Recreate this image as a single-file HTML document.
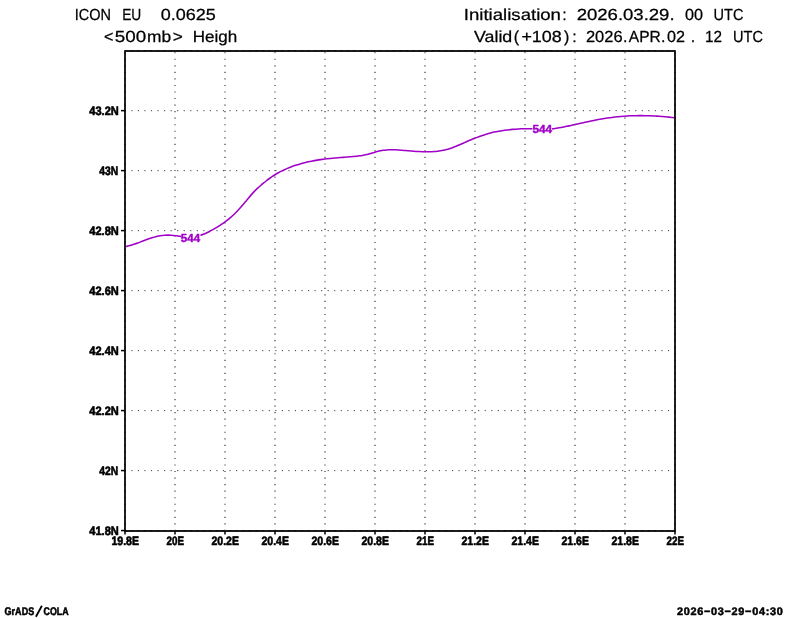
<!DOCTYPE html>
<html><head><meta charset="utf-8"><title>ICON EU 500mb Height</title>
<style>html,body{margin:0;padding:0;background:#fff;}body{width:800px;height:618px;overflow:hidden;font-family:"Liberation Sans",sans-serif;}svg{display:block;}text{font-family:"Liberation Sans",sans-serif;}</style>
</head><body>
<svg width="800" height="618" viewBox="0 0 800 618" style="will-change:transform">
<rect x="0" y="0" width="800" height="618" fill="#ffffff"/>
<g stroke="#3c3c3c" stroke-width="1" fill="none" stroke-dasharray="1.15 5.394">
<path d="M175.00 530.90V51.00" stroke-dashoffset="0.12" stroke-width="1.15" stroke="#343434"/>
<path d="M225.00 530.90V51.00" stroke-dashoffset="0.12" stroke-width="1.15" stroke="#343434"/>
<path d="M275.00 530.90V51.00" stroke-dashoffset="0.12" stroke-width="1.15" stroke="#343434"/>
<path d="M325.00 530.90V51.00" stroke-dashoffset="0.12" stroke-width="1.15" stroke="#343434"/>
<path d="M375.00 530.90V51.00" stroke-dashoffset="0.12" stroke-width="1.15" stroke="#343434"/>
<path d="M425.00 530.90V51.00" stroke-dashoffset="0.12" stroke-width="1.15" stroke="#343434"/>
<path d="M475.00 530.90V51.00" stroke-dashoffset="0.12" stroke-width="1.15" stroke="#343434"/>
<path d="M525.00 530.90V51.00" stroke-dashoffset="0.12" stroke-width="1.15" stroke="#343434"/>
<path d="M575.00 530.90V51.00" stroke-dashoffset="0.12" stroke-width="1.15" stroke="#343434"/>
<path d="M625.00 530.90V51.00" stroke-dashoffset="0.12" stroke-width="1.15" stroke="#343434"/>
<path d="M125.00 470.61H675.00" stroke-dashoffset="0.23"/>
<path d="M125.00 410.63H675.00" stroke-dashoffset="0.23"/>
<path d="M125.00 350.64H675.00" stroke-dashoffset="0.23"/>
<path d="M125.00 290.65H675.00" stroke-dashoffset="0.23"/>
<path d="M125.00 230.66H675.00" stroke-dashoffset="0.23"/>
<path d="M125.00 170.67H675.00" stroke-dashoffset="0.23"/>
<path d="M125.00 110.69H675.00" stroke-dashoffset="0.23"/>
</g>
<g stroke="#a000c8" stroke-width="1.55" fill="none" stroke-linecap="butt" stroke-linejoin="round">
<path d="M125.70 246.52C126.20 246.41 127.70 246.10 128.70 245.84C129.70 245.59 130.70 245.30 131.70 245.00C132.70 244.70 133.70 244.37 134.70 244.03C135.70 243.69 136.70 243.33 137.70 242.97C138.70 242.61 139.70 242.23 140.70 241.85C141.70 241.48 142.70 241.09 143.70 240.72C144.70 240.34 145.70 239.96 146.70 239.60C147.70 239.24 148.70 238.87 149.70 238.53C150.70 238.19 151.70 237.86 152.70 237.56C153.70 237.25 154.70 236.96 155.70 236.71C156.70 236.45 157.70 236.21 158.70 236.02C159.70 235.82 160.70 235.65 161.70 235.52C162.70 235.39 163.70 235.29 164.70 235.22C165.70 235.15 166.70 235.11 167.70 235.11C168.70 235.10 169.70 235.12 170.70 235.17C171.70 235.22 172.70 235.30 173.70 235.40C174.70 235.51 175.70 235.64 176.70 235.79C177.70 235.94 178.95 236.18 179.70 236.32C180.45 236.47 180.95 236.59 181.20 236.64"/>
<path d="M200.40 235.33C200.90 235.15 202.40 234.64 203.40 234.24C204.40 233.85 205.40 233.42 206.40 232.97C207.40 232.51 208.40 232.03 209.40 231.52C210.40 231.01 211.40 230.47 212.40 229.91C213.40 229.36 214.40 228.77 215.40 228.17C216.40 227.57 217.40 226.95 218.40 226.31C219.40 225.67 220.40 225.02 221.40 224.34C222.40 223.67 223.40 222.99 224.40 222.27C225.40 221.55 226.40 220.81 227.40 220.04C228.40 219.26 229.40 218.46 230.40 217.61C231.40 216.76 232.40 215.88 233.40 214.94C234.40 214.00 235.40 213.02 236.40 211.99C237.40 210.96 238.40 209.88 239.40 208.78C240.40 207.67 241.40 206.52 242.40 205.36C243.40 204.19 244.40 202.98 245.40 201.78C246.40 200.58 247.40 199.34 248.40 198.15C249.40 196.95 250.40 195.75 251.40 194.62C252.40 193.49 253.40 192.39 254.40 191.36C255.40 190.33 256.40 189.36 257.40 188.42C258.40 187.47 259.40 186.59 260.40 185.71C261.40 184.84 262.40 184.00 263.40 183.18C264.40 182.35 265.40 181.54 266.40 180.76C267.40 179.98 268.40 179.22 269.40 178.50C270.40 177.78 271.40 177.08 272.40 176.42C273.40 175.75 274.40 175.12 275.40 174.51C276.40 173.90 277.40 173.32 278.40 172.77C279.40 172.21 280.40 171.68 281.40 171.17C282.40 170.67 283.40 170.18 284.40 169.72C285.40 169.26 286.40 168.82 287.40 168.39C288.40 167.97 289.40 167.57 290.40 167.19C291.40 166.80 292.40 166.43 293.40 166.08C294.40 165.73 295.40 165.40 296.40 165.07C297.40 164.75 298.40 164.44 299.40 164.15C300.40 163.85 301.40 163.57 302.40 163.30C303.40 163.03 304.40 162.78 305.40 162.53C306.40 162.29 307.40 162.05 308.40 161.83C309.40 161.61 310.40 161.40 311.40 161.20C312.40 161.00 313.40 160.81 314.40 160.62C315.40 160.44 316.40 160.27 317.40 160.11C318.40 159.94 319.40 159.79 320.40 159.64C321.40 159.50 322.40 159.36 323.40 159.22C324.40 159.09 325.40 158.97 326.40 158.85C327.40 158.73 328.40 158.62 329.40 158.52C330.40 158.41 331.40 158.31 332.40 158.22C333.40 158.12 334.40 158.04 335.40 157.95C336.40 157.87 337.40 157.79 338.40 157.71C339.40 157.64 340.40 157.56 341.40 157.49C342.40 157.42 343.40 157.35 344.40 157.28C345.40 157.20 346.40 157.13 347.40 157.06C348.40 156.98 349.40 156.90 350.40 156.82C351.40 156.73 352.40 156.64 353.40 156.54C354.40 156.44 355.40 156.34 356.40 156.23C357.40 156.11 358.40 155.99 359.40 155.85C360.40 155.71 361.40 155.57 362.40 155.40C363.40 155.23 364.40 155.05 365.40 154.84C366.40 154.63 367.40 154.40 368.40 154.15C369.40 153.89 370.40 153.60 371.40 153.31C372.40 153.02 373.40 152.71 374.40 152.41C375.40 152.11 376.40 151.81 377.40 151.53C378.40 151.26 379.40 151.00 380.40 150.78C381.40 150.57 382.40 150.38 383.40 150.24C384.40 150.09 385.40 149.98 386.40 149.90C387.40 149.81 388.40 149.76 389.40 149.73C390.40 149.70 391.40 149.69 392.40 149.70C393.40 149.71 394.40 149.75 395.40 149.79C396.40 149.83 397.40 149.89 398.40 149.95C399.40 150.02 400.40 150.09 401.40 150.17C402.40 150.25 403.40 150.33 404.40 150.41C405.40 150.50 406.40 150.58 407.40 150.67C408.40 150.76 409.40 150.84 410.40 150.93C411.40 151.01 412.40 151.10 413.40 151.18C414.40 151.26 415.40 151.33 416.40 151.40C417.40 151.47 418.40 151.53 419.40 151.59C420.40 151.64 421.40 151.69 422.40 151.73C423.40 151.76 424.40 151.79 425.40 151.80C426.40 151.81 427.40 151.82 428.40 151.80C429.40 151.79 430.40 151.76 431.40 151.71C432.40 151.66 433.40 151.60 434.40 151.52C435.40 151.44 436.40 151.34 437.40 151.22C438.40 151.09 439.40 150.95 440.40 150.78C441.40 150.62 442.40 150.43 443.40 150.21C444.40 150.00 445.40 149.76 446.40 149.50C447.40 149.23 448.40 148.95 449.40 148.64C450.40 148.33 451.40 148.00 452.40 147.65C453.40 147.29 454.40 146.92 455.40 146.52C456.40 146.13 457.40 145.71 458.40 145.29C459.40 144.86 460.40 144.42 461.40 143.98C462.40 143.54 463.40 143.09 464.40 142.64C465.40 142.20 466.40 141.75 467.40 141.31C468.40 140.87 469.40 140.44 470.40 140.02C471.40 139.60 472.40 139.19 473.40 138.78C474.40 138.38 475.40 137.99 476.40 137.60C477.40 137.22 478.40 136.85 479.40 136.49C480.40 136.13 481.40 135.78 482.40 135.44C483.40 135.11 484.40 134.78 485.40 134.48C486.40 134.17 487.40 133.87 488.40 133.59C489.40 133.31 490.40 133.05 491.40 132.80C492.40 132.55 493.40 132.31 494.40 132.09C495.40 131.86 496.40 131.65 497.40 131.46C498.40 131.26 499.40 131.07 500.40 130.90C501.40 130.73 502.40 130.57 503.40 130.42C504.40 130.27 505.40 130.13 506.40 130.01C507.40 129.88 508.40 129.76 509.40 129.66C510.40 129.55 511.40 129.46 512.40 129.37C513.40 129.29 514.40 129.21 515.40 129.15C516.40 129.08 517.40 129.02 518.40 128.98C519.40 128.93 520.40 128.89 521.40 128.85C522.40 128.82 523.40 128.80 524.40 128.78C525.40 128.77 526.40 128.76 527.40 128.75C528.40 128.75 529.57 128.76 530.40 128.77C531.23 128.77 532.07 128.79 532.40 128.80"/>
<path d="M551.90 128.88C552.40 128.81 553.90 128.61 554.90 128.46C555.90 128.32 556.90 128.16 557.90 127.99C558.90 127.83 559.90 127.65 560.90 127.47C561.90 127.29 562.90 127.10 563.90 126.90C564.90 126.71 565.90 126.51 566.90 126.30C567.90 126.10 568.90 125.88 569.90 125.67C570.90 125.46 571.90 125.24 572.90 125.02C573.90 124.80 574.90 124.58 575.90 124.35C576.90 124.13 577.90 123.91 578.90 123.68C579.90 123.46 580.90 123.23 581.90 123.01C582.90 122.79 583.90 122.56 584.90 122.34C585.90 122.12 586.90 121.90 587.90 121.69C588.90 121.48 589.90 121.26 590.90 121.06C591.90 120.85 592.90 120.65 593.90 120.45C594.90 120.25 595.90 120.05 596.90 119.86C597.90 119.67 598.90 119.48 599.90 119.30C600.90 119.12 601.90 118.94 602.90 118.77C603.90 118.60 604.90 118.44 605.90 118.28C606.90 118.12 607.90 117.97 608.90 117.83C609.90 117.68 610.90 117.54 611.90 117.41C612.90 117.28 613.90 117.16 614.90 117.04C615.90 116.93 616.90 116.82 617.90 116.72C618.90 116.62 619.90 116.52 620.90 116.44C621.90 116.35 622.90 116.27 623.90 116.20C624.90 116.13 625.90 116.06 626.90 116.00C627.90 115.94 628.90 115.89 629.90 115.85C630.90 115.80 631.90 115.77 632.90 115.73C633.90 115.70 634.90 115.68 635.90 115.66C636.90 115.64 637.90 115.63 638.90 115.62C639.90 115.62 640.90 115.62 641.90 115.62C642.90 115.63 643.90 115.64 644.90 115.66C645.90 115.68 646.90 115.70 647.90 115.73C648.90 115.76 649.90 115.80 650.90 115.84C651.90 115.88 652.90 115.92 653.90 115.97C654.90 116.03 655.90 116.08 656.90 116.14C657.90 116.21 658.90 116.27 659.90 116.34C660.90 116.42 661.90 116.49 662.90 116.57C663.90 116.66 664.90 116.74 665.90 116.83C666.90 116.93 667.90 117.02 668.90 117.12C669.90 117.22 671.00 117.34 671.90 117.43C672.80 117.53 673.90 117.66 674.30 117.70"/>
</g>
<rect x="125.00" y="51.00" width="550.00" height="479.90" fill="none" stroke="#1c1c1c" stroke-width="1.95" stroke-linejoin="round"/>
<g stroke="#000" stroke-width="1" fill="none" stroke-dasharray="1.15 5.394">
<path d="M125.00 530.90V51.00" stroke-dashoffset="0.12"/>
<path d="M675.00 530.90V51.00" stroke-dashoffset="0.12"/>
<path d="M125.00 50.70H675.00" stroke-dashoffset="0.23"/>
<path d="M125.00 530.60H675.00" stroke-dashoffset="0.23"/>
</g>
<g stroke="#000" stroke-width="1.5" fill="none">
<path d="M125.00 530.90V534.50"/>
<path d="M175.00 530.90V534.50"/>
<path d="M225.00 530.90V534.50"/>
<path d="M275.00 530.90V534.50"/>
<path d="M325.00 530.90V534.50"/>
<path d="M375.00 530.90V534.50"/>
<path d="M425.00 530.90V534.50"/>
<path d="M475.00 530.90V534.50"/>
<path d="M525.00 530.90V534.50"/>
<path d="M575.00 530.90V534.50"/>
<path d="M625.00 530.90V534.50"/>
<path d="M675.00 530.90V534.50"/>
<path d="M125.00 530.55H121.00"/>
<path d="M125.00 470.56H121.00"/>
<path d="M125.00 410.58H121.00"/>
<path d="M125.00 350.59H121.00"/>
<path d="M125.00 290.60H121.00"/>
<path d="M125.00 230.61H121.00"/>
<path d="M125.00 170.62H121.00"/>
<path d="M125.00 110.64H121.00"/>
</g>
<text transform="translate(74.75 20.10) skewX(0.05)" font-size="16.0px" stroke="#000" stroke-linejoin="round" stroke-width="0.25" textLength="36.28" lengthAdjust="spacingAndGlyphs">ICON</text>
<text transform="translate(122.14 20.10) skewX(0.05)" font-size="16.0px" stroke="#000" stroke-linejoin="round" stroke-width="0.25" textLength="19.11" lengthAdjust="spacingAndGlyphs">EU</text>
<text transform="translate(160.78 20.10) skewX(0.05)" font-size="16.0px" stroke="#000" stroke-linejoin="round" stroke-width="0.25" textLength="55.01" lengthAdjust="spacingAndGlyphs">0.0625</text>
<text transform="translate(104.00 41.90) skewX(0.05)" font-size="16.0px" stroke="#000" stroke-linejoin="round" stroke-width="0.25" textLength="9.40" lengthAdjust="spacingAndGlyphs">&lt;</text>
<text transform="translate(114.82 41.90) skewX(0.05)" font-size="16.0px" stroke="#000" stroke-linejoin="round" stroke-width="0.25" textLength="31.41" lengthAdjust="spacingAndGlyphs">500</text>
<text transform="translate(146.97 41.90) skewX(0.05)" font-size="16.0px" stroke="#000" stroke-linejoin="round" stroke-width="0.25" textLength="24.12" lengthAdjust="spacingAndGlyphs">mb</text>
<text transform="translate(172.75 41.90) skewX(0.05)" font-size="16.0px" stroke="#000" stroke-linejoin="round" stroke-width="0.25" textLength="10.05" lengthAdjust="spacingAndGlyphs">&gt;</text>
<text transform="translate(192.69 41.90) skewX(0.05)" font-size="16.0px" stroke="#000" stroke-linejoin="round" stroke-width="0.25" textLength="44.49" lengthAdjust="spacingAndGlyphs">Heigh</text>
<text transform="translate(463.80 20.10) skewX(0.05)" font-size="16.0px" stroke="#000" stroke-linejoin="round" stroke-width="0.25" textLength="97.17" lengthAdjust="spacingAndGlyphs">Initialisation</text>
<text transform="translate(562.36 20.10) skewX(0.05)" font-size="16.0px" stroke="#000" stroke-linejoin="round" stroke-width="0.25">:</text>
<text transform="translate(576.64 20.10) skewX(0.05)" font-size="16.0px" stroke="#000" stroke-linejoin="round" stroke-width="0.25" textLength="97.95" lengthAdjust="spacingAndGlyphs">2026.03.29.</text>
<text transform="translate(685.00 20.10) skewX(0.05)" font-size="16.0px" stroke="#000" stroke-linejoin="round" stroke-width="0.25" textLength="18.00" lengthAdjust="spacingAndGlyphs">00</text>
<text transform="translate(713.57 20.10) skewX(0.05)" font-size="16.0px" stroke="#000" stroke-linejoin="round" stroke-width="0.25" textLength="29.97" lengthAdjust="spacingAndGlyphs">UTC</text>
<text transform="translate(473.96 41.90) skewX(0.05)" font-size="16.0px" stroke="#000" stroke-linejoin="round" stroke-width="0.25" textLength="38.32" lengthAdjust="spacingAndGlyphs">Valid</text>
<text transform="translate(513.86 41.90) skewX(0.05)" font-size="16.0px" stroke="#000" stroke-linejoin="round" stroke-width="0.25">(</text>
<text transform="translate(521.38 41.90) skewX(0.05)" font-size="16.0px" stroke="#000" stroke-linejoin="round" stroke-width="0.25" textLength="40.38" lengthAdjust="spacingAndGlyphs">+108</text>
<text transform="translate(564.00 41.90) skewX(0.05)" font-size="16.0px" stroke="#000" stroke-linejoin="round" stroke-width="0.25">)</text>
<text transform="translate(572.34 41.90) skewX(0.05)" font-size="16.0px" stroke="#000" stroke-linejoin="round" stroke-width="0.25">:</text>
<text transform="translate(585.92 41.90) skewX(0.05)" font-size="16.0px" stroke="#000" stroke-linejoin="round" stroke-width="0.25" textLength="36.65" lengthAdjust="spacingAndGlyphs">2026</text>
<text transform="translate(623.08 41.90) skewX(0.05)" font-size="16.0px" stroke="#000" stroke-linejoin="round" stroke-width="0.25">.</text>
<text transform="translate(628.82 41.90) skewX(0.05)" font-size="16.0px" stroke="#000" stroke-linejoin="round" stroke-width="0.25" textLength="31.93" lengthAdjust="spacingAndGlyphs">APR</text>
<text transform="translate(661.08 41.90) skewX(0.05)" font-size="16.0px" stroke="#000" stroke-linejoin="round" stroke-width="0.25">.</text>
<text transform="translate(667.00 41.90) skewX(0.05)" font-size="16.0px" stroke="#000" stroke-linejoin="round" stroke-width="0.25" textLength="18.00" lengthAdjust="spacingAndGlyphs">02</text>
<text transform="translate(690.85 41.90) skewX(0.05)" font-size="16.0px" stroke="#000" stroke-linejoin="round" stroke-width="0.25">.</text>
<text transform="translate(704.96 41.90) skewX(0.05)" font-size="16.0px" stroke="#000" stroke-linejoin="round" stroke-width="0.25" textLength="17.04" lengthAdjust="spacingAndGlyphs">12</text>
<text transform="translate(733.03 41.90) skewX(0.05)" font-size="16.0px" stroke="#000" stroke-linejoin="round" stroke-width="0.25" textLength="29.93" lengthAdjust="spacingAndGlyphs">UTC</text>
<text transform="translate(180.84 241.50) skewX(0.05)" font-size="11.8px" font-weight="bold" fill="#a000c8" stroke="#a000c8" stroke-linejoin="round" stroke-width="0.45" textLength="19.24" lengthAdjust="spacingAndGlyphs">544</text>
<text transform="translate(532.45 133.35) skewX(0.05)" font-size="11.8px" font-weight="bold" fill="#a000c8" stroke="#a000c8" stroke-linejoin="round" stroke-width="0.45" textLength="19.71" lengthAdjust="spacingAndGlyphs">544</text>
<text transform="translate(111.38 544.80) skewX(0.05)" font-size="12.2px" font-weight="bold" stroke="#000" stroke-linejoin="round" stroke-width="0.6" textLength="27.62" lengthAdjust="spacingAndGlyphs">19.8E</text>
<text transform="translate(166.59 544.80) skewX(0.05)" font-size="12.2px" font-weight="bold" stroke="#000" stroke-linejoin="round" stroke-width="0.6" textLength="17.51" lengthAdjust="spacingAndGlyphs">20E</text>
<text transform="translate(211.48 544.80) skewX(0.05)" font-size="12.2px" font-weight="bold" stroke="#000" stroke-linejoin="round" stroke-width="0.6" textLength="27.52" lengthAdjust="spacingAndGlyphs">20.2E</text>
<text transform="translate(261.48 544.80) skewX(0.05)" font-size="12.2px" font-weight="bold" stroke="#000" stroke-linejoin="round" stroke-width="0.6" textLength="27.52" lengthAdjust="spacingAndGlyphs">20.4E</text>
<text transform="translate(311.48 544.80) skewX(0.05)" font-size="12.2px" font-weight="bold" stroke="#000" stroke-linejoin="round" stroke-width="0.6" textLength="27.52" lengthAdjust="spacingAndGlyphs">20.6E</text>
<text transform="translate(361.48 544.80) skewX(0.05)" font-size="12.2px" font-weight="bold" stroke="#000" stroke-linejoin="round" stroke-width="0.6" textLength="27.52" lengthAdjust="spacingAndGlyphs">20.8E</text>
<text transform="translate(416.59 544.80) skewX(0.05)" font-size="12.2px" font-weight="bold" stroke="#000" stroke-linejoin="round" stroke-width="0.6" textLength="17.51" lengthAdjust="spacingAndGlyphs">21E</text>
<text transform="translate(461.48 544.80) skewX(0.05)" font-size="12.2px" font-weight="bold" stroke="#000" stroke-linejoin="round" stroke-width="0.6" textLength="27.52" lengthAdjust="spacingAndGlyphs">21.2E</text>
<text transform="translate(511.48 544.80) skewX(0.05)" font-size="12.2px" font-weight="bold" stroke="#000" stroke-linejoin="round" stroke-width="0.6" textLength="27.52" lengthAdjust="spacingAndGlyphs">21.4E</text>
<text transform="translate(561.48 544.80) skewX(0.05)" font-size="12.2px" font-weight="bold" stroke="#000" stroke-linejoin="round" stroke-width="0.6" textLength="27.52" lengthAdjust="spacingAndGlyphs">21.6E</text>
<text transform="translate(611.48 544.80) skewX(0.05)" font-size="12.2px" font-weight="bold" stroke="#000" stroke-linejoin="round" stroke-width="0.6" textLength="27.52" lengthAdjust="spacingAndGlyphs">21.8E</text>
<text transform="translate(666.59 544.80) skewX(0.05)" font-size="12.2px" font-weight="bold" stroke="#000" stroke-linejoin="round" stroke-width="0.6" textLength="17.51" lengthAdjust="spacingAndGlyphs">22E</text>
<text transform="translate(89.29 535.10) skewX(0.05)" font-size="12.2px" font-weight="bold" stroke="#000" stroke-linejoin="round" stroke-width="0.6" textLength="29.53" lengthAdjust="spacingAndGlyphs">41.8N</text>
<text transform="translate(99.29 475.11) skewX(0.05)" font-size="12.2px" font-weight="bold" stroke="#000" stroke-linejoin="round" stroke-width="0.6" textLength="18.91" lengthAdjust="spacingAndGlyphs">42N</text>
<text transform="translate(89.29 415.13) skewX(0.05)" font-size="12.2px" font-weight="bold" stroke="#000" stroke-linejoin="round" stroke-width="0.6" textLength="29.53" lengthAdjust="spacingAndGlyphs">42.2N</text>
<text transform="translate(89.29 355.14) skewX(0.05)" font-size="12.2px" font-weight="bold" stroke="#000" stroke-linejoin="round" stroke-width="0.6" textLength="29.53" lengthAdjust="spacingAndGlyphs">42.4N</text>
<text transform="translate(89.29 295.15) skewX(0.05)" font-size="12.2px" font-weight="bold" stroke="#000" stroke-linejoin="round" stroke-width="0.6" textLength="29.53" lengthAdjust="spacingAndGlyphs">42.6N</text>
<text transform="translate(89.29 235.16) skewX(0.05)" font-size="12.2px" font-weight="bold" stroke="#000" stroke-linejoin="round" stroke-width="0.6" textLength="29.53" lengthAdjust="spacingAndGlyphs">42.8N</text>
<text transform="translate(99.29 175.17) skewX(0.05)" font-size="12.2px" font-weight="bold" stroke="#000" stroke-linejoin="round" stroke-width="0.6" textLength="18.91" lengthAdjust="spacingAndGlyphs">43N</text>
<text transform="translate(89.29 115.19) skewX(0.05)" font-size="12.2px" font-weight="bold" stroke="#000" stroke-linejoin="round" stroke-width="0.6" textLength="29.53" lengthAdjust="spacingAndGlyphs">43.2N</text>
<text transform="translate(4.57 614.80) skewX(0.05)" font-size="11.0px" font-weight="bold" stroke="#000" stroke-linejoin="round" stroke-width="0.55" textLength="29.60" lengthAdjust="spacingAndGlyphs">GrADS</text>
<text transform="translate(43.60 614.80) skewX(0.05)" font-size="11.0px" font-weight="bold" stroke="#000" stroke-linejoin="round" stroke-width="0.55" textLength="25.06" lengthAdjust="spacingAndGlyphs">COLA</text>
<text transform="translate(677.00 615.00) skewX(0.05)" font-size="10.9px" font-weight="bold" stroke="#000" stroke-linejoin="round" stroke-width="0.5" textLength="105.83" lengthAdjust="spacing">2026−03−29−04:30</text>
<path d="M35.9 616.7L41.9 605.8" stroke="#000" stroke-width="1.8" fill="none"/>
</svg>
</body></html>
